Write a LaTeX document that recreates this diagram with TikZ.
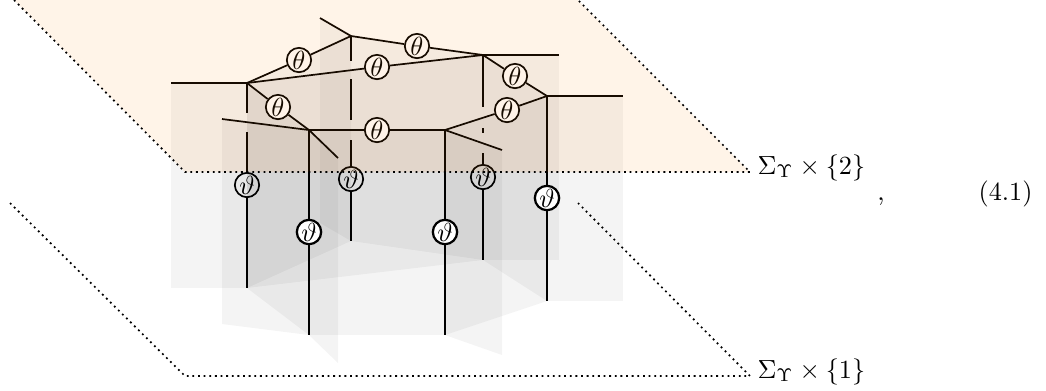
\documentclass[tikz,border=0pt]{standalone}
\usetikzlibrary{calc}
\tikzset{
    sheet/.style={fill=black,fill opacity=.045},
    edge/.style={line width=.65pt},
    plane/.style={line width=.65pt,dash pattern=on .7pt off 1.45pt},
    wt/.style={circle,draw,fill=white,line width=.65pt,minimum size=9.3pt,inner sep=0pt},
    wtfront/.style={wt,line width=.85pt}
}
\begin{document}
\begin{tikzpicture}[x=.3817pt,y=-.3817pt]
    \useasboundingbox (0,0) rectangle (1046,390);
    % trivalent vertices and free ends
    \coordinate (A) at (247,83);
    \coordinate (B) at (351,36);
    \coordinate (C) at (309,130);
    \coordinate (D) at (483,55);
    \coordinate (E) at (547,96);
    \coordinate (F) at (445,130);
    \coordinate (la) at (171,83);
    \coordinate (lb) at (320,18);
    \coordinate (lc) at (222,119);
    \coordinate (ld) at (338,158);
    \coordinate (le) at (559,55);
    \coordinate (lf) at (623,96);
    \coordinate (lg) at (502,150);
    % lower plane
    \draw[plane] (10,203) -- (185,376) -- (750,376) -- (578,203);
    % strands at the back
    \node[wt] (va) at (247,185) {\(\vartheta\)};
    \node[wt] (vb) at (351,179) {\(\vartheta\)};
    \node[wt] (vd) at (483,177) {\(\vartheta\)};
    \coordinate (a0) at (247,288);
    \coordinate (b0) at (351,241);
    \coordinate (d0) at (483,260);
    \draw[edge] (A) -- (247,113) (247,132) -- (va) -- (a0);
    \draw[edge] (B) -- (351,61) (351,79) -- (351,120) (351,140) -- (vb) -- (b0);
    \draw[edge] (D) -- (483,107) (483,128) -- (483,133) (483,153) -- (vd) -- (d0);
    % sheets
    \foreach \p/\q in {A/la,A/B,A/C,A/D,B/lb,B/D,D/le,D/E,E/lf,E/F,F/C,F/lg,C/lc,C/ld}
        \fill[sheet] (\p) -- (\q) -- ($(\q)+(0,205)$) -- ($(\p)+(0,205)$) -- cycle;
    % strands at the front
    \node[wtfront] (vc) at (309,232) {\(\vartheta\)};
    \node[wtfront] (vf) at (445,232) {\(\vartheta\)};
    \node[wtfront] (ve) at (547,198) {\(\vartheta\)};
    \coordinate (c0) at (309,335);
    \coordinate (f0) at (445,335);
    \coordinate (e0) at (547,301);
    \draw[edge] (C) -- (vc) -- (c0);
    \draw[edge] (F) -- (vf) -- (f0);
    \draw[edge] (E) -- (ve) -- (e0);
    % web
    \node[wt] (tab) at (299,60) {\(\theta\)};
    \node[wt] (tad) at (377,67) {\(\theta\)};
    \node[wt] (tac) at (278,107) {\(\theta\)};
    \node[wt] (tbd) at (417,46) {\(\theta\)};
    \node[wt] (tde) at (515,76) {\(\theta\)};
    \node[wt] (tef) at (507,110) {\(\theta\)};
    \node[wt] (tcf) at (377,130) {\(\theta\)};
    \draw[edge] (A) -- (tab) -- (B);
    \draw[edge] (A) -- (tad) -- (D);
    \draw[edge] (A) -- (tac) -- (C);
    \draw[edge] (B) -- (tbd) -- (D);
    \draw[edge] (D) -- (tde) -- (E);
    \draw[edge] (E) -- (tef) -- (F);
    \draw[edge] (C) -- (tcf) -- (F);
    \draw[edge] (la) -- (A);
    \draw[edge] (lb) -- (B);
    \draw[edge] (lc) -- (C) -- (ld);
    \draw[edge] (D) -- (le);
    \draw[edge] (E) -- (lf);
    \draw[edge] (F) -- (lg);
    % upper plane
    \fill[orange,opacity=.09] (14,0) -- (185,172) -- (750,172) -- (578,0) -- cycle;
    \draw[plane] (14,0) -- (185,172) -- (750,172) -- (578,0);
    % labels
    \node[anchor=base west,inner sep=0pt] (top) at (757,174) {\(\Sigma_\Upsilon\times\{2\}\)};
    \node[anchor=base west,inner sep=0pt] (bot) at (757,378) {\(\Sigma_\Upsilon\times\{1\}\)};
    \node[anchor=base,inner sep=0pt] (comma) at (881,200) {,};
    \node[anchor=base east,inner sep=0pt] (eqno) at (1033,200) {(4.1)};
\end{tikzpicture}
\end{document}
